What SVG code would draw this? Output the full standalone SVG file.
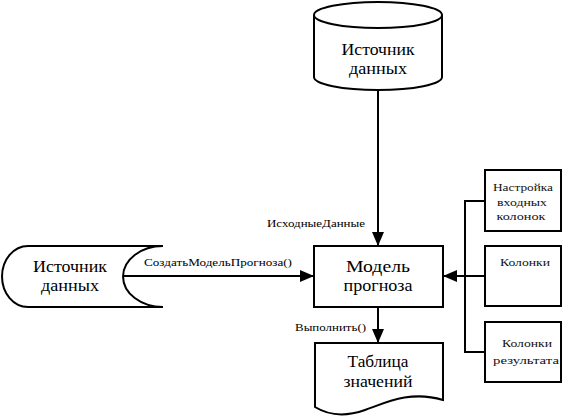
<svg xmlns="http://www.w3.org/2000/svg" width="563" height="417" viewBox="0 0 563 417">
<style>
.shape{fill:#fff;stroke:#000;stroke-width:2}
.line{fill:none;stroke:#000;stroke-width:2}
text{font-family:'Liberation Serif',serif}
.big{font-size:17px;fill:#000;text-anchor:middle}
.small{font-size:11px;fill:#000}
.box{font-size:11px;fill:#111;text-anchor:middle}
</style>
<defs>
<marker id="ah" viewBox="0 0 14 14" refX="14" refY="7" markerWidth="14" markerHeight="14" orient="auto" markerUnits="userSpaceOnUse">
<path d="M0,1 L14,7 L0,13 z" fill="#000"/>
</marker>
</defs>
<rect width="563" height="417" fill="#fff"/>
<g id="connectors" font-family="Liberation Serif, serif">
<line class="line" x1="378" y1="90" x2="378" y2="246" marker-end="url(#ah)"/>
<line class="line" x1="123" y1="276" x2="314" y2="276" marker-end="url(#ah)"/>
<line class="line" x1="378" y1="307" x2="378" y2="343" marker-end="url(#ah)"/>
<path class="line" d="M485,201 H465 V352 H485"/>
<line class="line" x1="485" y1="276" x2="443" y2="276" marker-end="url(#ah)"/>
<text class="small" font-family="Liberation Serif, serif" x="267" y="227" textLength="98" lengthAdjust="spacingAndGlyphs">ИсходныеДанные</text>
<text class="small" font-family="Liberation Serif, serif" x="144" y="266" textLength="148" lengthAdjust="spacingAndGlyphs">СоздатьМодельПрогноза()</text>
<text class="small" font-family="Liberation Serif, serif" x="295" y="331" textLength="71" lengthAdjust="spacingAndGlyphs">Выполнить()</text>
</g>
<g id="source-db" font-family="Liberation Serif, serif">
<path class="shape" d="M314,15 V77 A64,13 0 0 0 442,77 V15"/>
<ellipse class="shape" cx="378" cy="15" rx="64" ry="13"/>
<text class="big" x="378" y="55" textLength="73" lengthAdjust="spacingAndGlyphs">Источник</text>
<text class="big" x="378" y="74" textLength="58" lengthAdjust="spacingAndGlyphs">данных</text>
</g>
<g id="source-left" font-family="Liberation Serif, serif">
<path class="shape" d="M28,246 H163 A40,30.5 0 0 0 163,307 H28 A26,30.5 0 0 1 28,246 Z"/>
<text class="big" x="70" y="272" textLength="74" lengthAdjust="spacingAndGlyphs">Источник</text>
<text class="big" x="70" y="291" textLength="58" lengthAdjust="spacingAndGlyphs">данных</text>
</g>
<g id="model" font-family="Liberation Serif, serif">
<rect class="shape" x="314" y="246" width="129" height="61"/>
<text class="big" style="font-size:16px" x="378" y="272" textLength="64" lengthAdjust="spacingAndGlyphs">Модель</text>
<text class="big" style="font-size:16px" x="378" y="291" textLength="69" lengthAdjust="spacingAndGlyphs">прогноза</text>
</g>
<g id="table" font-family="Liberation Serif, serif">
<path class="shape" d="M315,343 H443 V400 C410,390 385,403 365,410 C345,417 328,415 315,407 Z"/>
<text class="big" x="378" y="367" textLength="61" lengthAdjust="spacingAndGlyphs">Таблица</text>
<text class="big" x="378" y="387" textLength="69" lengthAdjust="spacingAndGlyphs">значений</text>
</g>
<g id="settings" font-family="Liberation Serif, serif">
<rect class="shape" x="485" y="170" width="76" height="61"/>
<text class="box" x="523" y="191" textLength="60" lengthAdjust="spacingAndGlyphs">Настройка</text>
<text class="box" x="522" y="206" textLength="50" lengthAdjust="spacingAndGlyphs">входных</text>
<text class="box" x="521" y="220" textLength="49" lengthAdjust="spacingAndGlyphs">колонок</text>
</g>
<g id="columns" font-family="Liberation Serif, serif">
<rect class="shape" x="485" y="246" width="76" height="60"/>
<text class="box" x="525" y="266" textLength="50" lengthAdjust="spacingAndGlyphs">Колонки</text>
</g>
<g id="result-columns" font-family="Liberation Serif, serif">
<rect class="shape" x="485" y="322" width="76" height="60"/>
<text class="box" x="527" y="347" textLength="50" lengthAdjust="spacingAndGlyphs">Колонки</text>
<text class="box" x="526" y="364" textLength="66" lengthAdjust="spacingAndGlyphs">результата</text>
</g>
</svg>
